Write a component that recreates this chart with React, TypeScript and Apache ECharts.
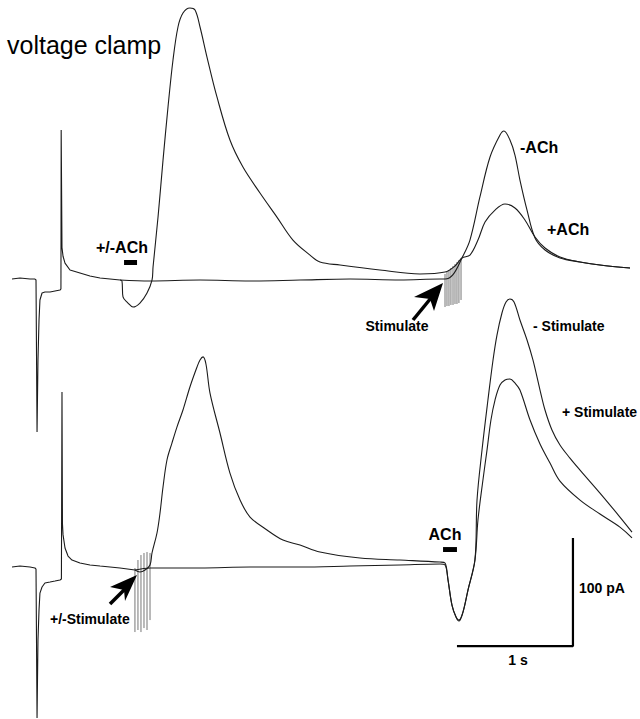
import React, { useEffect, useRef } from "react";
import * as echarts from "echarts";

// time in ms, current in pA (upward = outward current)
const TOP_ONSET = [
  [0, 0.9], [69, 1.9], [155, 0.9], [198, 0.9], [207, 0], [216, -140.7], [224, -74], [233, -37],
  [241, -18.5], [259, -12], [284, -11.1], [328, -11.1], [371, -10.2], [414, -9.3], [422, -8.3],
  [424, 138.9], [431, 30], [440, 22], [457, 15.7], [500, 9.3], [586, 6.5], [672, 3.7], [759, 1.9], [931, 0],
];
const TOP_MINUS_ACH = [
  [1190, -0.9], [1621, 0], [2052, -0.9], [2483, 0], [2914, 0.9], [3345, 0], [3690, 0.9], [3733, 0.9],
  [3802, 5], [3879, 20.4], [3948, 37], [4034, 76.9], [4121, 113.9], [4207, 134.3], [4241, 138],
  [4293, 129.6], [4336, 115.7], [4379, 92.6], [4440, 64.8], [4509, 38.9], [4595, 27.8], [4724, 20.4],
  [4897, 16.7], [5069, 13.9], [5328, 11.1],
];
const TOP_PLUS_ACH = [
  [948, -0.9], [957, -15.7], [1000, -21.3], [1043, -25], [1103, -21.3], [1164, -12], [1207, 0],
  [1216, 12], [1259, 58.3], [1302, 111], [1345, 160.2], [1388, 203.7], [1431, 234.3], [1474, 247.2],
  [1534, 251.9], [1578, 250], [1621, 234.3], [1681, 206.5], [1767, 169.5], [1879, 129.6], [1991, 104.6],
  [2138, 80.6], [2284, 58.3], [2422, 37], [2569, 23.1], [2655, 16.7], [2828, 13.9], [3172, 9.3],
  [3517, 5.6], [3733, 7.4], [3819, 13], [3879, 20.4], [3948, 23.1], [4017, 37], [4078, 53.7],
  [4164, 64.8], [4250, 70.4], [4336, 66.7], [4422, 55.6], [4509, 39.8], [4595, 29.6], [4724, 21.3],
  [4897, 16.7], [5069, 13.9], [5328, 11.1],
];
// stimulus artifacts: [time, top, bottom]
const TOP_STIM = [
  [3733, 5.6, -25], [3750, 7.4, -24.1], [3767, 9.3, -24.1], [3784, 11.1, -23.1], [3802, 13, -23.1],
  [3819, 14.8, -22.2], [3836, 16.7, -22.2], [3853, 18.5, -21.3], [3871, 20.4, -18.5],
];
const TOP_ACH_BAR = [[966, 1078, 13.9, 18.5]];

const BOTTOM_ONSET = [
  [0, 0], [69, 0.9], [155, 0], [198, -0.9], [207, -1.9], [216, -139.8], [224, -67.6], [233, -39.8],
  [241, -24.1], [259, -18.5], [284, -14.8], [328, -13.9], [371, -13], [414, -12], [426, -11.1],
  [431, 162], [435, 40], [440, 30], [457, 17.6], [483, 10.2], [517, 6.5], [586, 3.7], [672, 1.9],
  [759, 0.9], [931, -0.9], [1060, -2.8],
];
const BOTTOM_MINUS_STIM = [
  [1190, -0.9], [1621, -0.9], [2052, 0], [2483, 0], [2914, 0.9], [3345, 1.9], [3690, 2.8], [3733, 1.9],
  [3759, -12], [3793, -35.2], [3828, -46.3], [3853, -49.1], [3888, -41.7], [3931, -21.3], [3991, 6.5],
  [4009, 62], [4052, 108.3], [4103, 154.6], [4147, 191.7], [4181, 214.8], [4224, 235.2], [4259, 245.4],
  [4293, 248.2], [4328, 245.4], [4379, 228.7], [4440, 210.2], [4491, 191.7], [4552, 163.9],
  [4595, 145.4], [4655, 126.9], [4724, 113], [4810, 100.9], [4897, 89.8], [5069, 68.5], [5241, 46.3],
  [5345, 32.4],
];
const BOTTOM_PLUS_STIM = [
  [1103, -4.6], [1147, -2.8], [1190, 1.9], [1207, 13], [1250, 31.5], [1276, 50], [1302, 74.1],
  [1336, 99.1], [1379, 114.8], [1422, 129.6], [1474, 145.4], [1534, 166.7], [1595, 185.2],
  [1621, 191.7], [1647, 194.6], [1672, 188], [1707, 161.1], [1793, 124.1], [1879, 87], [1966, 62],
  [2052, 46.3], [2198, 34.3], [2336, 25], [2483, 20.4], [2655, 13.9], [3000, 8.3], [3345, 6.5],
  [3690, 4.6], [3733, 3.7], [3759, -12], [3793, -35.2], [3828, -46.3], [3853, -50], [3888, -41.7],
  [3931, -21.3], [3991, 6.5], [4017, 43.5], [4060, 80.6], [4095, 108.3], [4129, 136.1], [4164, 154.6],
  [4207, 168.5], [4250, 173.2], [4293, 174.1], [4336, 170.4], [4379, 163.9], [4466, 136.1],
  [4552, 113.9], [4638, 96.3], [4724, 79.6], [4897, 62], [5069, 49.1], [5241, 37], [5345, 26.9],
];
const BOTTOM_STIM = [
  [1060, -0.9, -60.2], [1086, 6.5, -58.3], [1112, 11.1, -60.2], [1138, 13, -56.5], [1164, 13.9, -58.3],
  [1190, 13, -49.1],
];
const BOTTOM_ACH_BAR = [[3716, 3836, 13.9, 18.5]];
// scale bar: 1 s by 100 pA
const SCALE_BAR = [[3836, -73.2], [4836, -73.2], [4836, 26.8]];

const TRACE_COLOR = "#1b1b1b";
const FONT = '"Liberation Sans", Arial, Helvetica, sans-serif';

function traceSeries(name: string, data: number[][], idx: number, smooth: number) {
  return {
    name,
    type: "line",
    xAxisIndex: idx,
    yAxisIndex: idx,
    data,
    showSymbol: false,
    symbol: "none",
    silent: true,
    smooth,
    lineStyle: { color: TRACE_COLOR, width: 1.1 },
    z: 3,
  };
}

function withStart(onset: number[][], rest: number[][]) {
  return [onset[onset.length - 1]].concat(rest);
}

function stimSeries(data: number[][], idx: number) {
  return {
    type: "custom",
    xAxisIndex: idx,
    yAxisIndex: idx,
    data,
    silent: true,
    encode: { x: 0, y: [1, 2] },
    renderItem: (params: any, api: any) => {
      const x = api.value(0);
      const p1 = api.coord([x, api.value(1)]);
      const p2 = api.coord([x, api.value(2)]);
      return {
        type: "line",
        shape: { x1: p1[0], y1: p1[1], x2: p2[0], y2: p2[1] },
        style: { stroke: "#777", lineWidth: 1 },
      };
    },
    z: 2,
  };
}

function barSeries(data: number[][], idx: number) {
  return {
    type: "custom",
    xAxisIndex: idx,
    yAxisIndex: idx,
    data,
    silent: true,
    encode: { x: [0, 1], y: [2, 3] },
    renderItem: (params: any, api: any) => {
      const a = api.coord([api.value(0), api.value(3)]);
      const b = api.coord([api.value(1), api.value(2)]);
      return {
        type: "rect",
        shape: { x: a[0], y: a[1], width: b[0] - a[0], height: b[1] - a[1] },
        style: { fill: "#000" },
      };
    },
    z: 4,
  };
}

function label(text: string, x: number, y: number, size: number, align: string, bold = true) {
  return {
    type: "text",
    x,
    y,
    silent: true,
    style: {
      text,
      fill: "#000",
      fontSize: size,
      fontWeight: bold ? "bold" : "normal",
      fontFamily: FONT,
      textAlign: align,
      align,
      textVerticalAlign: "middle",
      verticalAlign: "middle",
    },
    z: 10,
  };
}

export default function App() {
  const ref = useRef<HTMLDivElement>(null);
  useEffect(() => {
    document.body.style.margin = "0";
    const chart = echarts.init(ref.current!, null, { renderer: "svg" });
    const option: any = {
      animation: false,
      backgroundColor: "#fff",
      grid: [
        { left: 0, right: 0, top: 0, bottom: 0 },
        { left: 0, right: 0, top: 0, bottom: 0 },
      ],
      xAxis: [
        { gridIndex: 0, type: "value", min: -103.4, max: 5414, show: false },
        { gridIndex: 1, type: "value", min: -103.4, max: 5414, show: false },
      ],
      yAxis: [
        { gridIndex: 0, type: "value", min: -406.5, max: 259.3, show: false },
        { gridIndex: 1, type: "value", min: -140.7, max: 525, show: false },
      ],
      series: [
        traceSeries("top onset", TOP_ONSET, 0, 0),
        traceSeries("top -ACh", withStart(TOP_ONSET, TOP_MINUS_ACH), 0, 0.35),
        traceSeries("top +ACh", withStart(TOP_ONSET, TOP_PLUS_ACH), 0, 0.35),
        stimSeries(TOP_STIM, 0),
        barSeries(TOP_ACH_BAR, 0),
        traceSeries("bottom onset", BOTTOM_ONSET, 1, 0),
        traceSeries("bottom -Stimulate", withStart(BOTTOM_ONSET, BOTTOM_MINUS_STIM), 1, 0.35),
        traceSeries("bottom +Stimulate", withStart(BOTTOM_ONSET, BOTTOM_PLUS_STIM), 1, 0.35),
        stimSeries(BOTTOM_STIM, 1),
        barSeries(BOTTOM_ACH_BAR, 1),
        {
          type: "line",
          xAxisIndex: 1,
          yAxisIndex: 1,
          data: SCALE_BAR,
          showSymbol: false,
          symbol: "none",
          silent: true,
          lineStyle: { color: "#000", width: 2.2 },
          z: 5,
        },
      ],
      graphic: [
        label("voltage clamp", 7, 45, 25, "left", false),
        label("+/-ACh", 122, 247, 16, "center"),
        label("-ACh", 520, 147, 16, "left"),
        label("+ACh", 547, 229, 16, "left"),
        label("Stimulate", 397, 326, 14, "center"),
        label("- Stimulate", 533, 326, 14, "left"),
        label("+ Stimulate", 562, 412, 14, "left"),
        label("+/-Stimulate", 50, 619, 14, "left"),
        label("ACh", 445, 534, 16, "center"),
        label("100 pA", 579, 588, 14, "left"),
        label("1 s", 518, 660, 14, "center"),
        {
          type: "line",
          silent: true,
          shape: { x1: 413, y1: 320, x2: 431, y2: 298 },
          style: { stroke: "#000", lineWidth: 3.5 },
          z: 10,
        },
        {
          type: "polygon",
          silent: true,
          shape: { points: [[443, 283], [434, 311], [430, 299], [414, 297]] },
          style: { fill: "#000" },
          z: 10,
        },
        {
          type: "line",
          silent: true,
          shape: { x1: 110, y1: 604, x2: 126, y2: 588 },
          style: { stroke: "#000", lineWidth: 3.5 },
          z: 10,
        },
        {
          type: "polygon",
          silent: true,
          shape: { points: [[137, 575], [125, 601], [124, 590], [110, 587]] },
          style: { fill: "#000" },
          z: 10,
        },
      ],
    };
    chart.setOption(option);
    return () => chart.dispose();
  }, []);
  return <div ref={ref} style={{ width: 640, height: 719, background: "#fff" }} />;
}
